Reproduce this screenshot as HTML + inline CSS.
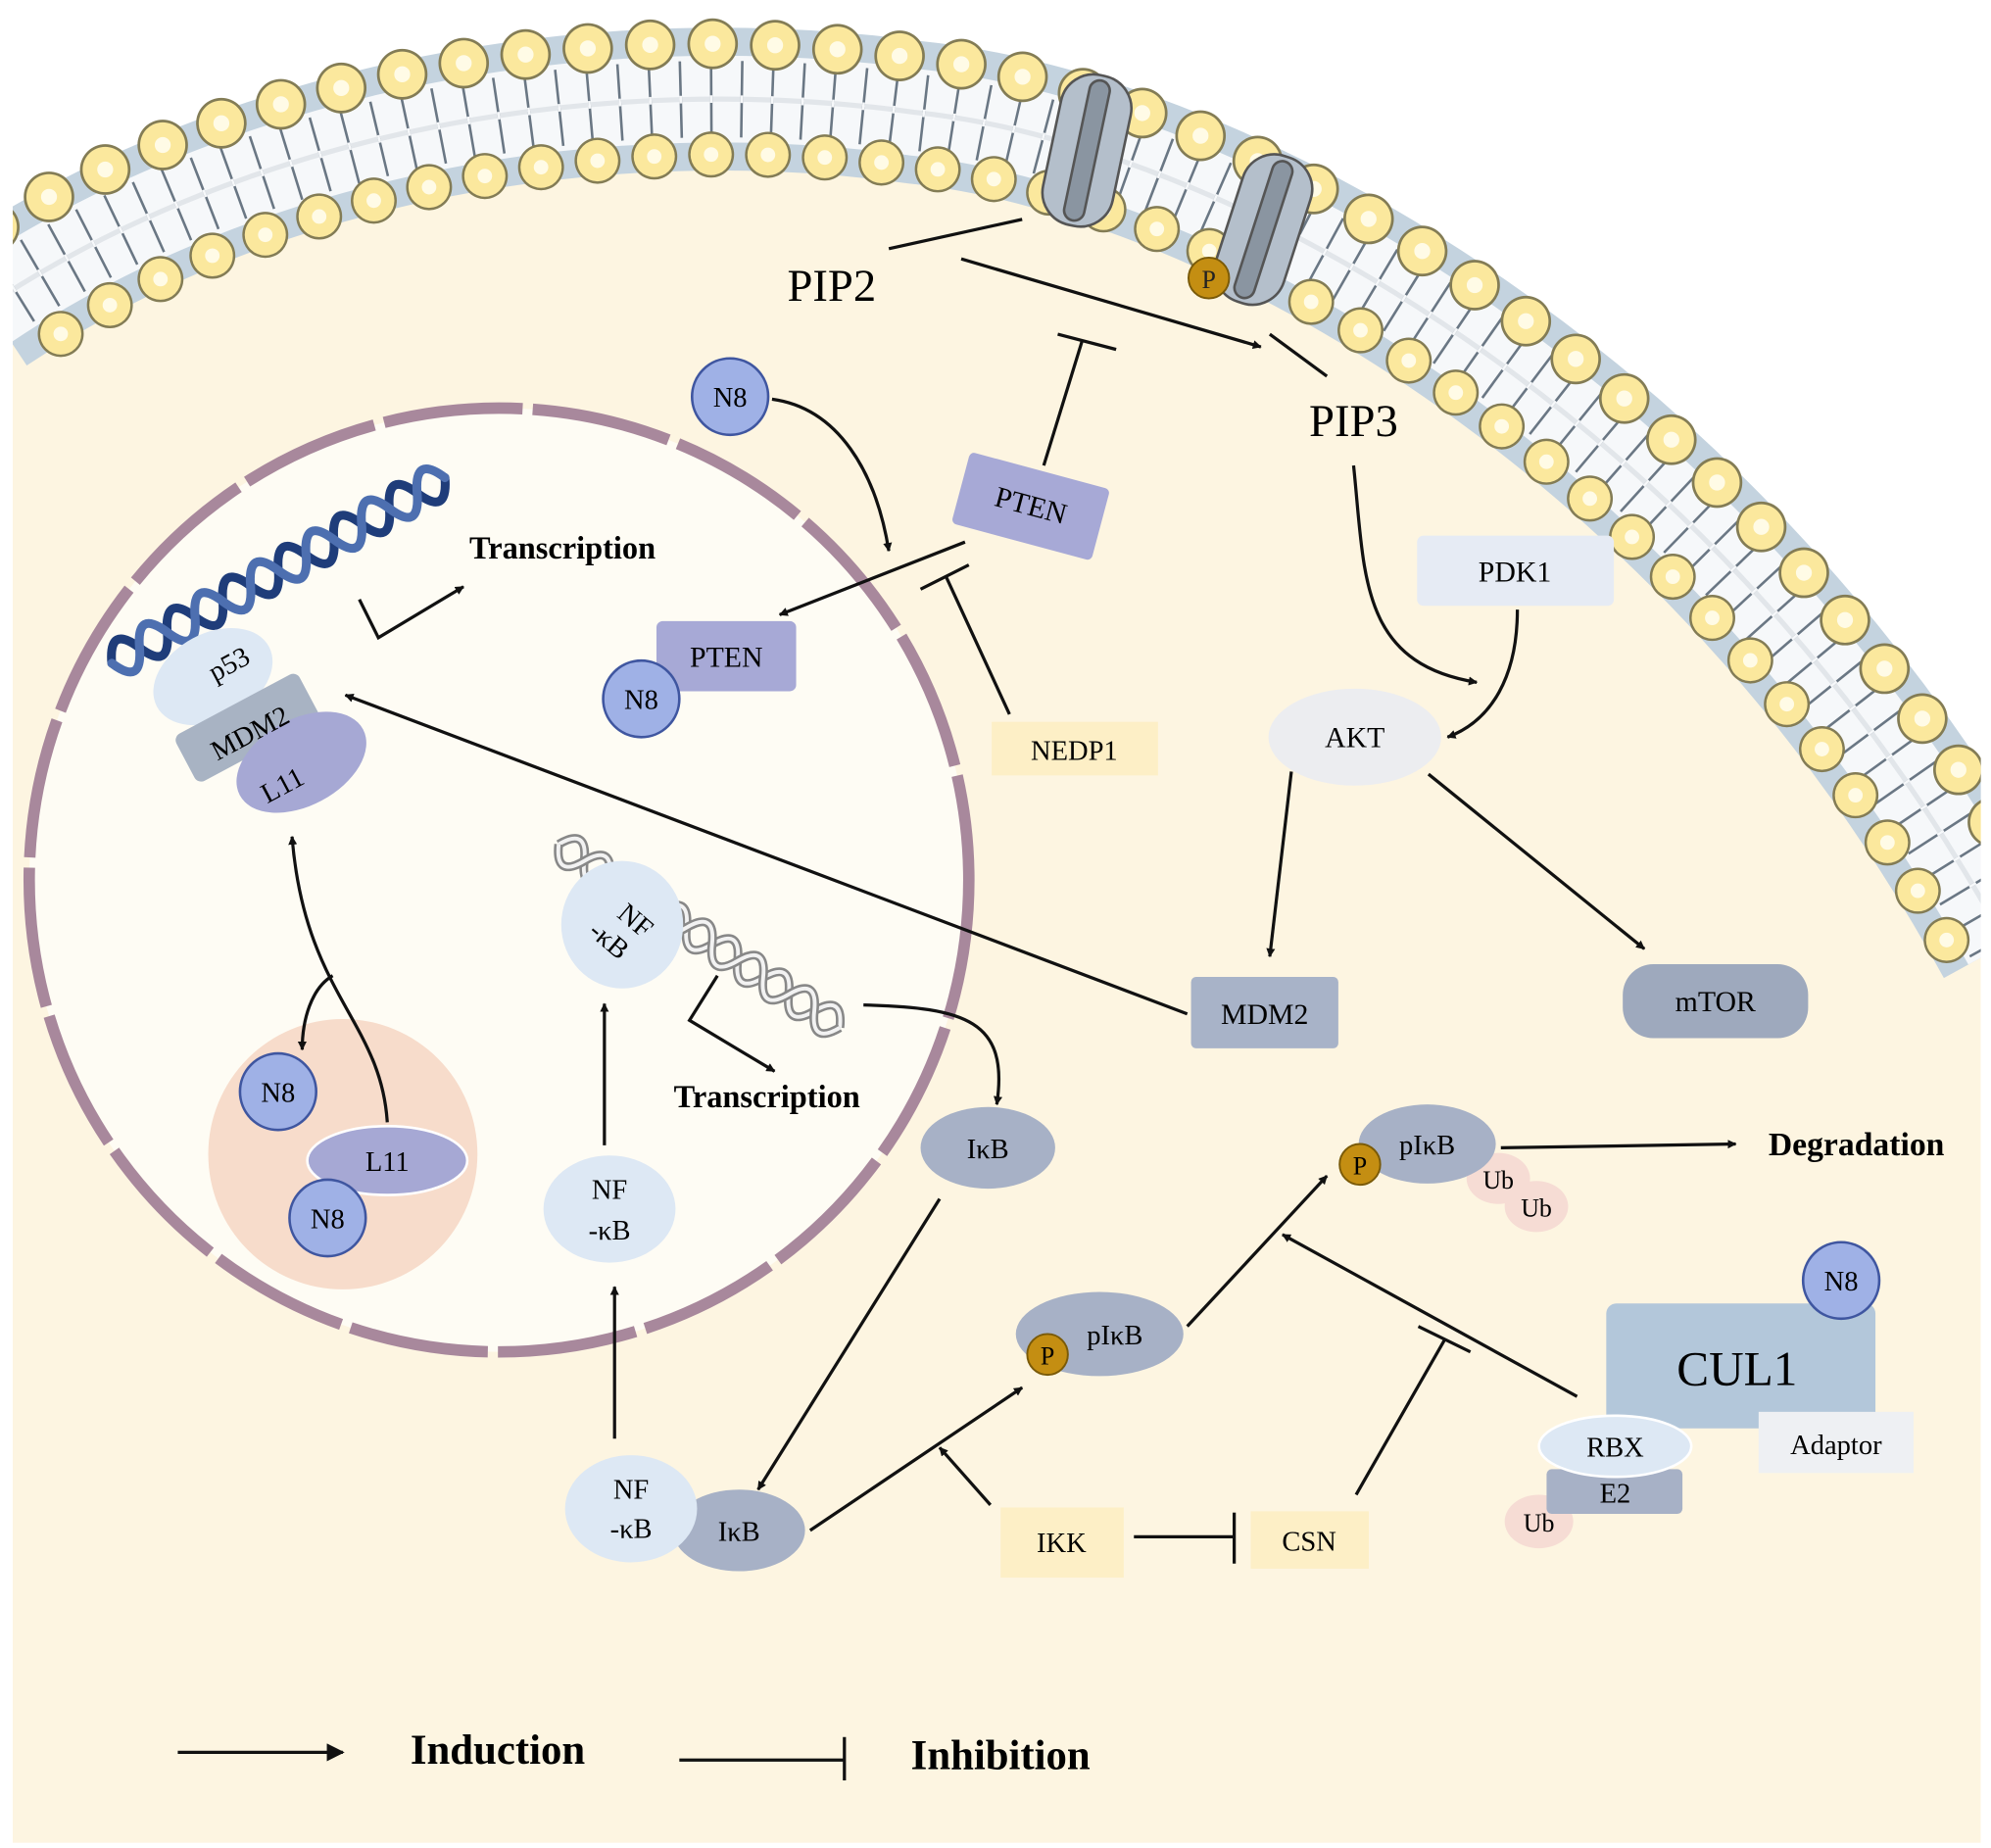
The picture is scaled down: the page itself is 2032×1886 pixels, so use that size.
<!DOCTYPE html>
<html><head><meta charset="utf-8"><style>
html,body{margin:0;padding:0;background:#fff;}
svg{display:block;}
text{font-family:"Liberation Serif",serif;}
</style></head><body>
<svg width="2032" height="1886" viewBox="0 0 1568 1449" preserveAspectRatio="none" xmlns="http://www.w3.org/2000/svg">
<defs>
<marker id="ar" viewBox="0 0 10 10" refX="9" refY="5" markerWidth="7" markerHeight="7" orient="auto" markerUnits="userSpaceOnUse">
<path d="M0,0 L10,5 L0,10 z" fill="#111"/></marker>
<marker id="a2" viewBox="0 0 10 10" refX="9" refY="5" markerWidth="16" markerHeight="14" orient="auto" markerUnits="userSpaceOnUse">
<path d="M0,0 L10,5 L0,10 z" fill="#111"/></marker>
<path id="mem" d="M -10 240 C 200 100, 480 55, 720 88 C 960 112, 1350 320, 1580 740"/>
</defs>
<rect width="1568" height="1449" fill="#fff"/>
<path d="M 10 230 C 200 100, 480 55, 720 88 C 960 112, 1350 320, 1560 720 L 1560 1445 L 10 1445 Z" fill="#fdf5e1"/>
<g fill="none">
<use href="#mem" stroke="#c4d3df" stroke-width="112"/>
<use href="#mem" stroke="#f6f8fa" stroke-width="68"/>
<use href="#mem" stroke="#e2e6ea" stroke-width="4"/>
<use href="#mem" stroke="#6a7784" stroke-width="60" stroke-dasharray="2 22" />
<use href="#mem" stroke="#f6f8fa" stroke-width="6" stroke-dasharray="2 22"/>
<g transform="translate(760 1000) scale(1.047) translate(-760 -1000)">
<use href="#mem" stroke="#837c55" stroke-width="38" stroke-linecap="round" stroke-dasharray="0 47"/>
<use href="#mem" stroke="#fbe89d" stroke-width="34" stroke-linecap="round" stroke-dasharray="0 47"/>
<use href="#mem" stroke="#fffbe6" stroke-width="12" stroke-linecap="round" stroke-dasharray="0 47"/>
</g>
<g transform="translate(760 1000) scale(0.953) translate(-760 -1000)">
<use href="#mem" stroke="#837c55" stroke-width="38" stroke-linecap="round" stroke-dasharray="0 47" stroke-dashoffset="20"/>
<use href="#mem" stroke="#fbe89d" stroke-width="34" stroke-linecap="round" stroke-dasharray="0 47" stroke-dashoffset="20"/>
<use href="#mem" stroke="#fffbe6" stroke-width="12" stroke-linecap="round" stroke-dasharray="0 47" stroke-dashoffset="20"/>
</g>
</g>
<rect x="0" y="0" width="10" height="1449" fill="#fff"/>
<rect x="1560" y="0" width="8" height="1449" fill="#fff"/>
<rect x="0" y="1445" width="1568" height="4" fill="#fff"/>
<g transform="rotate(12 856 118)" stroke="#555" stroke-width="2">
<rect x="828" y="58" width="56" height="120" rx="26" fill="#b4bfcb"/>
<rect x="848" y="62" width="16" height="112" rx="8" fill="#8a95a1"/>
</g>
<g transform="rotate(18 995 180)" stroke="#555" stroke-width="2">
<rect x="967" y="120" width="56" height="120" rx="26" fill="#b4bfcb"/>
<rect x="987" y="124" width="16" height="112" rx="8" fill="#8a95a1"/>
</g>
<circle cx="952" cy="218" r="16" fill="#c48e12" stroke="#7a5a08" stroke-width="1.5"/>
<text x="952" y="226" font-size="20" text-anchor="middle" fill="#222">P</text>

<circle cx="393" cy="690" r="370" fill="#fefcf4" stroke="#a8889c" stroke-width="9" stroke-dasharray="110 8"/>
<circle cx="270" cy="905" r="106" fill="#f7dccb"/>

<g transform="translate(88 520) rotate(-29)" fill="none" stroke-linecap="round">
<path d="M0 0 Q12.5 -28 25 0 T50 0 T75 0 T100 0 T125 0 T150 0 T175 0 T200 0 T225 0 T250 0 T275 0 T300 0" stroke="#1f3d7a" stroke-width="7"/>
<path d="M0 0 Q12.5 28 25 0 T50 0 T75 0 T100 0 T125 0 T150 0 T175 0 T200 0 T225 0 T250 0 T275 0 T300 0" stroke="#4d6fb0" stroke-width="7"/>
</g>
<g transform="translate(440 662) rotate(33)" fill="none">
<path d="M0 0 Q12 -24 24 0 T48 0 T72 0 T96 0 T120 0 T144 0 T168 0 T192 0 T216 0 T240 0 T264 0" stroke="#888" stroke-width="7"/>
<path d="M0 0 Q12 -24 24 0 T48 0 T72 0 T96 0 T120 0 T144 0 T168 0 T192 0 T216 0 T240 0 T264 0" stroke="#f2f2f2" stroke-width="3"/>
<path d="M0 0 Q12 24 24 0 T48 0 T72 0 T96 0 T120 0 T144 0 T168 0 T192 0 T216 0 T240 0 T264 0" stroke="#888" stroke-width="7"/>
<path d="M0 0 Q12 24 24 0 T48 0 T72 0 T96 0 T120 0 T144 0 T168 0 T192 0 T216 0 T240 0 T264 0" stroke="#f2f2f2" stroke-width="3"/>
</g>

<g transform="rotate(-28 200 570)">
<ellipse cx="190" cy="520" rx="50" ry="34" fill="#dde8f4"/>
<rect x="140" y="547" width="110" height="42" rx="6" fill="#a8b3c3"/>
<ellipse cx="220" cy="612" rx="55" ry="34" fill="#a6a8d4"/>
</g>
<text x="180" y="528" font-size="22" text-anchor="middle" transform="rotate(-28 180 520)">p53</text>
<text x="197" y="582" font-size="22" text-anchor="middle" transform="rotate(-28 197 575)">MDM2</text>
<text x="222" y="623" font-size="22" text-anchor="middle" transform="rotate(-28 222 615)">L11</text>

<ellipse cx="490" cy="725" rx="48" ry="50" fill="#dde8f4"/>
<text x="496" y="723" font-size="22" text-anchor="middle" transform="rotate(40 490 725)">NF</text>
<text x="490" y="748" font-size="22" text-anchor="middle" transform="rotate(40 490 725)">-κB</text>
<ellipse cx="480" cy="948" rx="52" ry="42" fill="#dde8f4"/>
<text x="480" y="940" font-size="22" text-anchor="middle">NF</text>
<text x="480" y="972" font-size="22" text-anchor="middle">-κB</text>

<ellipse cx="305" cy="910" rx="63" ry="27" fill="#a6a8d4" stroke="#fff" stroke-width="2"/>
<text x="305" y="918" font-size="22" text-anchor="middle">L11</text>
<g fill="#9fb1e6" stroke="#3f56a0" stroke-width="2">
<circle cx="219" cy="856" r="30"/><circle cx="258" cy="955" r="30"/><circle cx="575" cy="311" r="30"/>
</g>
<g font-size="22" text-anchor="middle">
<text x="219" y="864">N8</text><text x="258" y="963">N8</text><text x="575" y="319">N8</text>
</g>

<rect x="517" y="487" width="110" height="55" rx="5" fill="#a7a9d6"/>
<circle cx="505" cy="548" r="30" fill="#9fb1e6" stroke="#3f56a0" stroke-width="2"/>
<text x="505" y="556" font-size="22" text-anchor="middle">N8</text>
<text x="572" y="523" font-size="23" text-anchor="middle">PTEN</text>
<g transform="rotate(15 812 396)"><rect x="755" y="368" width="114" height="58" rx="4" fill="#a7a9d6"/>
<text x="812" y="404" font-size="23" text-anchor="middle">PTEN</text></g>
<rect x="781" y="566" width="131" height="42" fill="#fdefc6"/>
<text x="846" y="596" font-size="22" text-anchor="middle">NEDP1</text>
<rect x="1116" y="420" width="155" height="55" rx="5" fill="#e6ebf4"/>
<text x="1193" y="456" font-size="23" text-anchor="middle">PDK1</text>
<ellipse cx="1067" cy="578" rx="68" ry="38" fill="#ecedf0"/>
<text x="1067" y="586" font-size="23" text-anchor="middle">AKT</text>
<rect x="938" y="766" width="116" height="56" rx="4" fill="#a8b3c8"/>
<text x="996" y="803" font-size="23" text-anchor="middle">MDM2</text>
<rect x="1278" y="756" width="146" height="58" rx="24" fill="#9ea9bd"/>
<text x="1351" y="793" font-size="23" text-anchor="middle">mTOR</text>
<text x="655" y="236" font-size="36" text-anchor="middle">PIP2</text>
<text x="1066" y="342" font-size="36" text-anchor="middle">PIP3</text>
<text x="443" y="438" font-size="25" font-weight="bold" text-anchor="middle">Transcription</text>
<text x="604" y="868" font-size="25" font-weight="bold" text-anchor="middle">Transcription</text>

<ellipse cx="778" cy="900" rx="53" ry="32" fill="#a7b1c6"/>
<text x="778" y="908" font-size="22" text-anchor="middle">IκB</text>
<ellipse cx="582" cy="1200" rx="52" ry="32" fill="#a7b1c6"/>
<text x="582" y="1208" font-size="22" text-anchor="middle">IκB</text>
<ellipse cx="497" cy="1183" rx="52" ry="42" fill="#dde8f4"/>
<text x="497" y="1175" font-size="22" text-anchor="middle">NF</text>
<text x="497" y="1206" font-size="22" text-anchor="middle">-κB</text>
<ellipse cx="866" cy="1046" rx="66" ry="33" fill="#a7b1c6"/>
<text x="878" y="1054" font-size="22" text-anchor="middle">pIκB</text>
<circle cx="825" cy="1062" r="16" fill="#c48e12" stroke="#7a5a08" stroke-width="1.5"/>
<text x="825" y="1070" font-size="20" text-anchor="middle">P</text>
<ellipse cx="1180" cy="924" rx="25" ry="20" fill="#f6dcd4"/>
<ellipse cx="1210" cy="946" rx="25" ry="20" fill="#f6dcd4"/>
<ellipse cx="1124" cy="897" rx="54" ry="31" fill="#a7b1c6"/>
<text x="1124" y="905" font-size="22" text-anchor="middle">pIκB</text>
<text x="1180" y="932" font-size="20" text-anchor="middle">Ub</text>
<text x="1210" y="954" font-size="20" text-anchor="middle">Ub</text>
<circle cx="1071" cy="913" r="16" fill="#c48e12" stroke="#7a5a08" stroke-width="1.5"/>
<text x="1071" y="921" font-size="20" text-anchor="middle">P</text>
<text x="1462" y="906" font-size="26" font-weight="bold" text-anchor="middle">Degradation</text>

<rect x="1265" y="1022" width="212" height="98" rx="8" fill="#b3c7da"/>
<circle cx="1450" cy="1004" r="30" fill="#9fb1e6" stroke="#3f56a0" stroke-width="2"/>
<text x="1450" y="1012" font-size="22" text-anchor="middle">N8</text>
<text x="1368" y="1086" font-size="38" text-anchor="middle">CUL1</text>
<rect x="1385" y="1107" width="122" height="48" fill="#eef0f3"/>
<text x="1446" y="1140" font-size="22" text-anchor="middle">Adaptor</text>
<ellipse cx="1212" cy="1193" rx="27" ry="21" fill="#f6dcd4"/>
<text x="1212" y="1201" font-size="20" text-anchor="middle">Ub</text>
<rect x="1218" y="1152" width="107" height="35" rx="4" fill="#a7b1c6"/>
<text x="1272" y="1178" font-size="22" text-anchor="middle">E2</text>
<ellipse cx="1272" cy="1134" rx="60" ry="24" fill="#dde8f4" stroke="#fff" stroke-width="2"/>
<text x="1272" y="1142" font-size="22" text-anchor="middle">RBX</text>
<rect x="788" y="1182" width="97" height="55" fill="#fdefc6"/>
<text x="836" y="1217" font-size="22" text-anchor="middle">IKK</text>
<rect x="985" y="1185" width="93" height="45" fill="#fdefc6"/>
<text x="1031" y="1216" font-size="22" text-anchor="middle">CSN</text>

<g fill="none" stroke="#111" stroke-width="2.5">
<path d="M700 195 L805 172"/>
<path d="M757 203 L993 272" marker-end="url(#ar)"/>
<path d="M1000 262 L1045 295"/>
<path d="M822 365 L852 268"/><path d="M833 262 L879 274"/>
<path d="M608 313 C660 320 690 370 700 432" marker-end="url(#ar)"/>
<path d="M760 425 L614 482" marker-end="url(#ar)"/>
<path d="M795 560 L745 452"/><path d="M725 462 L763 443"/>
<path d="M1066 365 C1075 450 1070 520 1163 535" marker-end="url(#ar)"/>
<path d="M1195 478 C1195 530 1175 565 1140 578" marker-end="url(#ar)"/>
<path d="M1017 605 L1000 750" marker-end="url(#ar)"/>
<path d="M1125 607 L1295 744" marker-end="url(#ar)"/>
<path d="M935 795 L272 545" marker-end="url(#ar)"/>
<path d="M283 470 L298 500 L365 460" marker-end="url(#ar)"/>
<path d="M565 765 L543 800 L610 840" marker-end="url(#ar)"/>
<path d="M680 788 C760 790 795 800 785 866" marker-end="url(#ar)"/>
<path d="M305 880 C300 800 240 780 230 656" marker-end="url(#ar)"/>
<path d="M262 765 C245 775 238 800 238 823" marker-end="url(#ar)"/>
<path d="M476 898 L476 787" marker-end="url(#ar)"/>
<path d="M484 1128 L484 1009" marker-end="url(#ar)"/>
<path d="M740 940 L597 1168" marker-end="url(#ar)"/>
<path d="M638 1200 L805 1088" marker-end="url(#ar)"/>
<path d="M780 1180 L740 1135" marker-end="url(#ar)"/>
<path d="M893 1205 L972 1205"/><path d="M972 1186 L972 1226"/>
<path d="M1068 1172 L1138 1050"/><path d="M1117 1040 L1158 1060"/>
<path d="M1242 1095 L1010 968" marker-end="url(#ar)"/>
<path d="M935 1040 L1045 922" marker-end="url(#ar)"/>
<path d="M1182 900 L1367 897" marker-end="url(#ar)"/>
<path d="M140 1374 L270 1374" marker-end="url(#a2)"/>
<path d="M535 1380 L665 1380"/><path d="M665 1362 L665 1396"/>
</g>
<text x="392" y="1383" font-size="33" font-weight="bold" text-anchor="middle">Induction</text>
<text x="788" y="1387" font-size="33" font-weight="bold" text-anchor="middle">Inhibition</text>
</svg>
</body></html>
